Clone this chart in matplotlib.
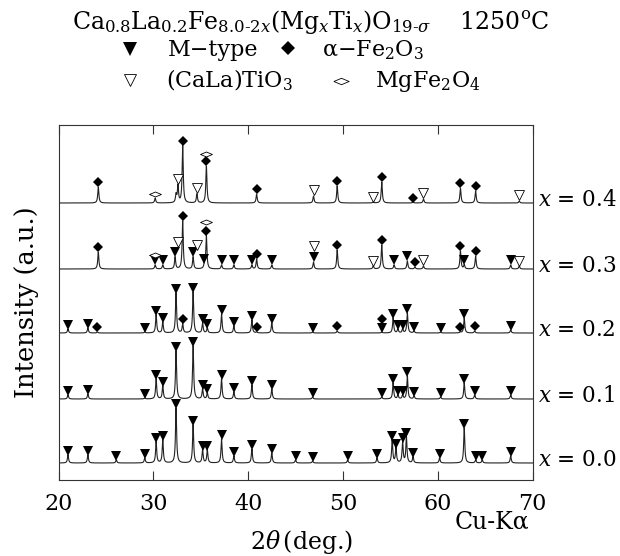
import numpy as np
import matplotlib
matplotlib.use("Agg")
import matplotlib.pyplot as plt
from matplotlib.lines import Line2D

plt.rcParams['font.family'] = ['DejaVu Serif']
plt.rcParams['mathtext.fontset'] = 'dejavuserif'

# composition x and vertical offset of each pattern (a.u.)
samples = ["0.0", "0.1", "0.2", "0.3", "0.4"]
offsets = [0, 64, 130, 194, 260]

# diffraction peaks: (2theta, height)
peaks_00 = [(21.0, 8), (23.1, 8), (26.1, 3), (29.1, 5), (30.3, 21), (31.0, 23), (32.4, 55),
            (34.2, 38), (35.2, 13), (35.7, 13), (37.2, 24), (38.5, 7), (40.4, 14), (42.5, 10),
            (45.0, 3), (46.8, 2), (50.5, 3), (53.6, 5), (55.2, 23), (55.6, 15), (56.3, 21),
            (56.7, 26), (57.4, 6), (60.2, 5), (62.8, 35), (64.0, 3), (64.7, 3), (67.7, 7)]
peaks_01 = [(21.0, 4), (23.1, 5), (29.1, 1), (30.3, 20), (31.0, 13), (32.4, 48), (34.2, 53),
            (35.2, 10), (35.7, 6), (37.2, 20), (38.5, 7), (40.4, 14), (42.5, 10), (46.8, 2),
            (54.1, 2), (55.3, 16), (55.8, 4), (56.3, 4), (56.8, 23), (57.5, 3), (60.3, 2),
            (62.8, 16), (63.9, 4), (67.7, 4)]
peaks_02 = [(21.0, 4), (23.1, 5), (24.1, 1), (29.1, 1), (30.3, 18), (31.0, 11), (32.4, 40),
            (33.1, 9), (34.2, 41), (35.2, 10), (35.7, 5), (37.2, 19), (38.5, 7), (40.4, 13),
            (40.9, 1), (42.5, 10), (46.8, 1), (49.4, 2), (54.1, 1), (55.3, 15), (55.8, 4),
            (56.3, 4), (56.8, 20), (57.5, 2), (60.3, 1), (62.4, 1), (62.8, 15), (63.9, 2), (67.7, 3)]
peaks_03 = [(24.2, 17), (30.2, 4), (31.0, 4), (32.3, 12), (33.1, 48), (34.2, 12), (35.4, 5),
            (35.6, 33), (37.2, 4), (38.5, 4), (40.4, 4), (40.9, 10), (42.5, 4), (46.9, 7),
            (49.4, 19), (53.2, 3), (54.1, 24), (55.4, 4), (56.8, 8), (57.6, 2), (58.5, 3),
            (62.4, 18), (62.8, 4), (64.0, 13), (67.7, 4), (68.6, 3)]
peaks_04 = [(24.2, 16), (30.2, 5), (32.4, 8), (32.6, 17), (33.1, 57), (34.6, 9), (35.6, 37),
            (40.9, 9), (46.9, 7), (49.4, 17), (53.2, 1), (54.1, 21), (57.4, 1), (58.5, 4),
            (62.4, 15), (64.0, 12), (68.6, 2)]

# phase markers: (2theta, level of the marker's lower edge above the baseline)
mtype_02 = [(21.0, 4), (23.1, 5), (29.1, 1), (30.3, 18), (31.0, 11), (32.4, 40), (34.2, 41),
            (35.2, 10), (35.7, 5), (37.2, 19), (38.5, 7), (40.4, 13), (42.5, 10), (46.8, 1),
            (54.1, 1), (55.3, 15), (55.8, 4), (56.3, 4), (56.8, 20), (57.5, 2), (60.3, 1),
            (62.8, 15), (67.7, 3)]
hema_02 = [(24.1, 1), (33.1, 9), (40.9, 1), (49.4, 2), (54.1, 9), (62.4, 1), (63.9, 2)]

mtype_03 = [(30.2, 4), (31.0, 4), (32.3, 12), (34.2, 12), (35.4, 5), (37.2, 4), (38.5, 4),
            (40.4, 4), (42.5, 4), (46.9, 7), (55.4, 4), (56.8, 8), (62.8, 4), (67.7, 4)]
hema_03 = [(24.2, 17), (33.1, 48), (35.6, 33), (40.9, 10), (49.4, 19), (54.1, 24), (57.6, 2),
           (62.4, 18), (64.0, 13)]
tio3_03 = [(32.6, 22), (34.6, 19), (46.9, 18), (53.2, 3), (58.5, 4), (68.6, 3)]
mgfe_03 = [(30.2, 11), (35.6, 44)]

hema_04 = [(24.2, 16), (33.1, 57), (35.6, 37), (40.9, 9), (49.4, 17), (54.1, 21), (57.4, 0),
           (62.4, 15), (64.0, 12)]
tio3_04 = [(32.6, 19), (34.6, 10), (46.9, 8), (53.2, 1), (58.5, 5), (68.6, 3)]
mgfe_04 = [(30.2, 6), (35.6, 46)]

patterns = [peaks_00, peaks_01, peaks_02, peaks_03, peaks_04]
mtype = [peaks_00, peaks_01, mtype_02, mtype_03, []]
hema = [[], [], hema_02, hema_03, hema_04]
tio3 = [[], [], [], tio3_03, tio3_04]
mgfe = [[], [], [], mgfe_03, mgfe_04]

flat_diamond = [(-1, 0), (0, 0.42), (1, 0), (0, -0.42), (-1, 0)]

fig = plt.figure(figsize=(6.2, 5.56), dpi=100)
ax = fig.add_axes([58.5 / 620, 76 / 556, 474 / 620, 355 / 556])

tt = np.linspace(20, 70, 5001)
for i, s in enumerate(samples):
    base = offsets[i]
    prof = np.zeros_like(tt)
    for p, h in patterns[i]:
        prof += h / (1 + ((tt - p) / 0.07) ** 2)
    ax.plot(tt, base + prof, color='#222222', lw=0.8)

    for p, lv in mtype[i]:
        ax.plot(p, base + lv + 4.5, marker='v', ms=6.5, color='black', mew=0)
    for p, lv in hema[i]:
        ax.plot(p, base + lv + 4.8, marker='D', ms=4.8, color='black', mew=0)
    for p, lv in tio3[i]:
        ax.plot(p, base + lv + 4.5, marker='v', ms=6.5, mfc='white', mec='black', mew=0.6)
    for p, lv in mgfe[i]:
        ax.plot(p, base + lv + 2.5, marker=flat_diamond, ms=8.5, mfc='white', mec='black', mew=0.6)

    ax.text(1.012, base + 3, "$x$ = " + s, transform=ax.get_yaxis_transform(),
            fontsize=15.5, ha='left', va='center')

ax.set_xlim(20, 70)
ax.set_ylim(-17, 338)
ax.set_xticks([20, 30, 40, 50, 60, 70])
ax.set_yticks([])
ax.tick_params(axis='x', direction='in', length=6.5, width=0.8, top=True,
               labelsize=16, pad=9, color='#333333')
for sp in ax.spines.values():
    sp.set_linewidth(0.8)
    sp.set_color('#333333')

fig.text(27 / 620, 1 - 302 / 556, "Intensity (a.u.)", rotation=90, fontsize=18.5,
         ha='center', va='center')
fig.text(302 / 620, 1 - 542 / 556, r"$2\theta\,$(deg.)", fontsize=17, ha='center', va='center')
fig.text(492 / 620, 1 - 522 / 556, "Cu-K\u03b1", fontsize=17, ha='center', va='center')

# title and phase legend
fig.text(311 / 620, 1 - 29 / 556,
         r"Ca$_{0.8}$La$_{0.2}$Fe$_{8.0\text{-}2x}$(Mg$_x$Ti$_x$)O$_{19\text{-}\sigma}$    1250$^{\rm o}$C",
         fontsize=17, ha='center', va='baseline')
fig.text(168 / 620, 1 - 56 / 556, "M\u2212type", fontsize=16, ha='left', va='baseline')
fig.text(322 / 620, 1 - 56 / 556, "\u03b1\u2212Fe$_2$O$_3$", fontsize=16, ha='left', va='baseline')
fig.text(166 / 620, 1 - 87 / 556, "(CaLa)TiO$_3$", fontsize=16, ha='left', va='baseline')
fig.text(375 / 620, 1 - 87 / 556, "MgFe$_2$O$_4$", fontsize=16, ha='left', va='baseline')

fig.add_artist(Line2D([130 / 620], [1 - 49 / 556], marker='v', ms=9.5, color='black', mew=0,
                      transform=fig.transFigure))
fig.add_artist(Line2D([288 / 620], [1 - 48 / 556], marker='D', ms=7, color='black', mew=0,
                      transform=fig.transFigure))
fig.add_artist(Line2D([130 / 620], [1 - 80 / 556], marker='v', ms=8, mfc='white', mec='black',
                      mew=0.6, transform=fig.transFigure))
fig.add_artist(Line2D([341 / 620], [1 - 81 / 556], marker=flat_diamond, ms=11, mfc='white',
                      mec='black', mew=0.6, transform=fig.transFigure))

fig.savefig("out.png", dpi=100)
